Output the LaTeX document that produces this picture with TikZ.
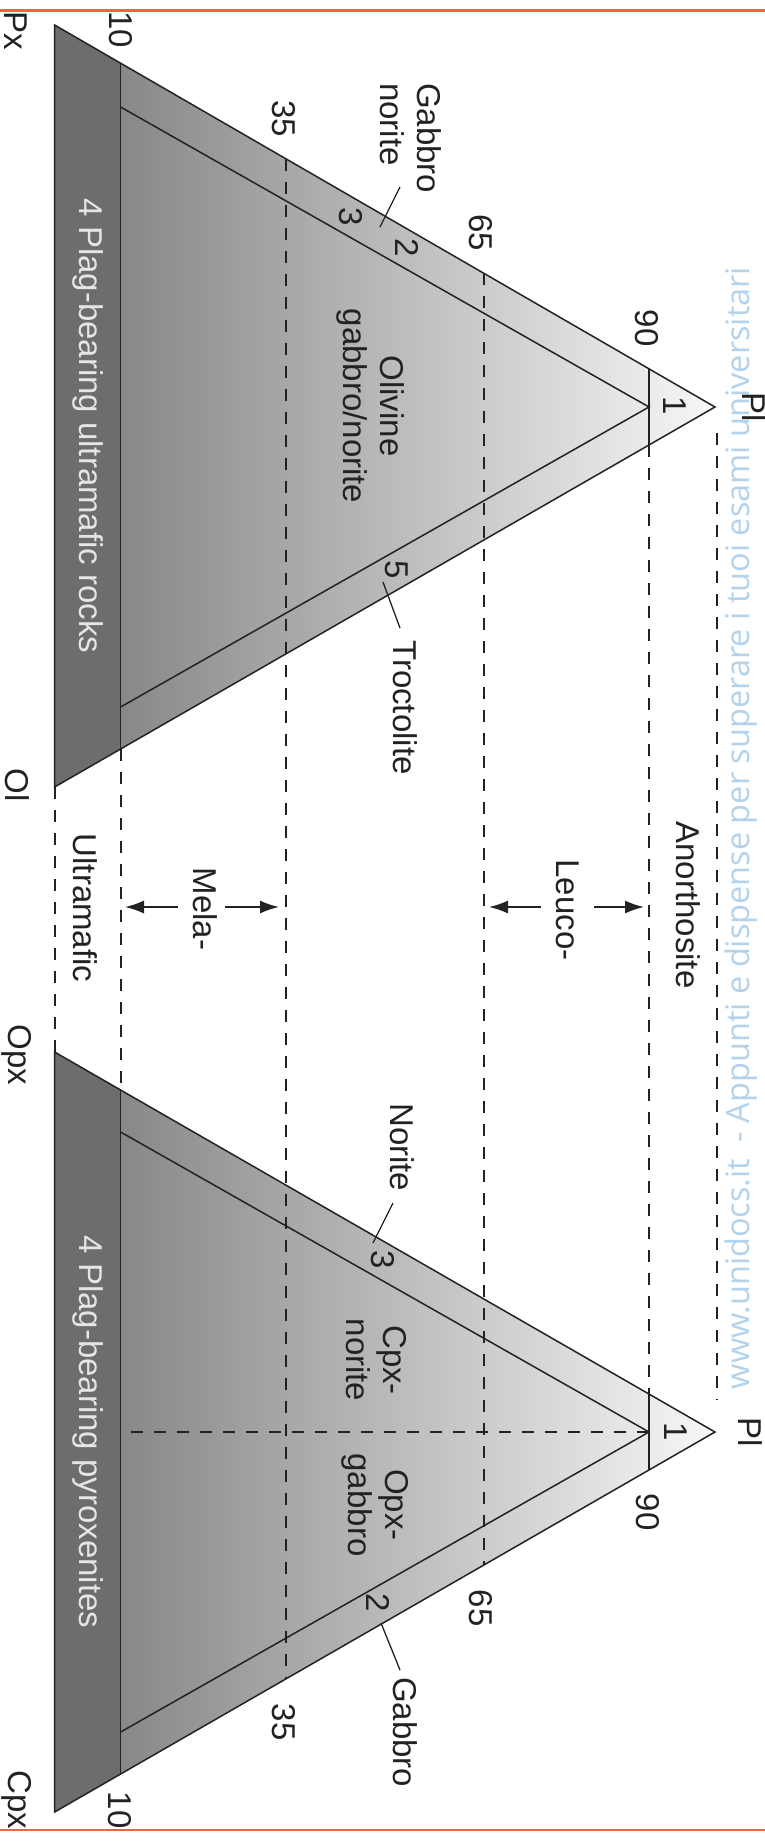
\documentclass[tikz,border=0pt]{standalone}
\usepackage{fontspec}
\setmainfont{Liberation Sans}
\newfontfamily\wmfont{Open Sans}
\usetikzlibrary{calc,arrows.meta}
\definecolor{ink}{HTML}{222222}
\definecolor{stripgray}{HTML}{6D6D6D}
\definecolor{gradL}{HTML}{888888}
\definecolor{gradR}{HTML}{F7F7F7}
\definecolor{wmblue}{HTML}{B3D3EC}
\definecolor{pagered}{HTML}{F0643C}
\begin{document}
\begin{tikzpicture}[x=1pt,y=-1pt,
  lbl/.style={font=\fontsize{33}{37}\selectfont, rotate=-90, inner sep=0pt, text=ink},
  striplbl/.style={lbl, text=white!90!black},
  edgeln/.style={draw=ink, line width=1.5pt, line join=miter},
  dashln/.style={draw=ink, line width=1.8pt, dash pattern=on 12pt off 11pt},
  leader/.style={draw=ink, line width=1.3pt},
  rng/.style={draw=ink, line width=1.7pt, -{Latex[length=19pt,width=13pt]}},
]
\useasboundingbox (0,0) rectangle (765,1842);
\fill[white] (0,0) rectangle (765,1842);

% watermark
\node[rotate=90, inner sep=0pt, font=\wmfont\fontsize{32.5}{34}\selectfont, text=wmblue] (wm) at (741,828)
  {www.unidocs.it\ \ - Appunti e dispense per superare i tuoi esami universitari};

% page rules
\coordinate (RtL) at (0,10.7);  \coordinate (RtR) at (765,10.7);
\coordinate (RbL) at (0,1830);  \coordinate (RbR) at (765,1830);
\draw[pagered, line width=2.5pt] (RtL) -- (RtR);
\draw[pagered, line width=2.5pt] (RbL) -- (RbR);

% vertices
\coordinate (Px)  at (54.6,25);
\coordinate (Ol)  at (54.6,787);
\coordinate (PlA) at (715,407);
\coordinate (Opx) at (54.6,1052);
\coordinate (Cpx) at (54.6,1812);
\coordinate (PlB) at (715,1432);

% points on outer edges (Pl fraction)
\foreach \p/\n in {.1/10,.35/35,.65/65,.9/90}{
  \coordinate (A\n t) at ($(Px)!\p!(PlA)$);
  \coordinate (A\n b) at ($(Ol)!\p!(PlA)$);
  \coordinate (B\n t) at ($(Opx)!\p!(PlB)$);
  \coordinate (B\n b) at ($(Cpx)!\p!(PlB)$);
}
% inner (5 %) lines
\coordinate (IA) at (649,407);
\coordinate (IB) at (649,1432);
\coordinate (A5t) at (120.6,107);
\coordinate (A5b) at (120.6,707);
\coordinate (B5t) at (120.6,1132);
\coordinate (B5b) at (120.6,1732);

% fills
\fill[stripgray] (Px) -- (A10t) -- (A10b) -- (Ol) -- cycle;
\shade[left color=gradL, right color=gradR] (A10t) -- (PlA) -- (A10b) -- cycle;
\fill[stripgray] (Opx) -- (B10t) -- (B10b) -- (Cpx) -- cycle;
\shade[left color=gradL, right color=gradR] (B10t) -- (PlB) -- (B10b) -- cycle;

% dashed guide lines
\coordinate (Rtop) at (717,433);
\coordinate (Rbot) at (717,1400);
\coordinate (Hend) at (124,1432);
\draw[dashln] (Ol) -- (Opx);
\draw[dashln] (A10b) -- (B10t);
\draw[dashln] (A35t) -- (B35b);
\draw[dashln] (A65t) -- (B65b);
\draw[dashln] (A90b) -- (B90t);
\draw[dashln] (Rtop) -- (Rbot);
\draw[dashln] (IB) -- (Hend);

% triangles
\draw[edgeln] (Px) -- (PlA) -- (Ol) -- cycle;
\draw[edgeln] (A10t) -- (A10b);
\draw[edgeln] (A5t) -- (IA) -- (A5b);
\draw[ink, line width=2.6pt] (A90t) -- (A90b);
\draw[edgeln] (Opx) -- (PlB) -- (Cpx) -- cycle;
\draw[edgeln] (B10t) -- (B10b);
\draw[edgeln] (B5t) -- (IB) -- (B5b);
\draw[ink, line width=1.5pt] (B90t) -- (B90b);

% corner labels
\node[lbl] (lPx)  at (16,31)   {Px};
\node[lbl] (lOl)  at (17,785)  {Ol};
\node[lbl] (lOpx) at (17,1055) {Opx};
\node[lbl] (lCpx) at (17,1800) {Cpx};
\node[lbl] (lPlA) at (754,407) {Pl};
\node[lbl] (lPlB) at (750,1432) {Pl};

% numbers
\node[lbl] (nA1)  at (675,406)  {1};
\node[lbl] (nA90) at (647,328)  {90};
\node[lbl] (nA65) at (481,233)  {65};
\node[lbl] (nA35) at (284,119)  {35};
\node[lbl] (nA10) at (121,30)   {10};
\node[lbl] (nA3)  at (351,217)  {3};
\node[lbl] (nA2)  at (407,248)  {2};
\node[lbl] (nA5)  at (397,570)  {5};
\node[lbl] (nB1)  at (676,1432) {1};
\node[lbl] (nB90) at (648,1512) {90};
\node[lbl] (nB65) at (481,1608) {65};
\node[lbl] (nB35) at (284,1722) {35};
\node[lbl] (nB10) at (120,1810) {10};
\node[lbl] (nB3)  at (383,1260) {3};
\node[lbl] (nB2)  at (378,1603) {2};

% rock names
\node[lbl, align=left, anchor=west] (tGN) at (411,83) {Gabbro\\norite};
\coordinate (gnA) at (400,187); \coordinate (gnB) at (380,227);
\draw[leader] (gnA) -- (gnB);
\node[lbl, align=center] (tOl) at (371,406) {Olivine\\gabbro/norite};
\node[lbl, anchor=west] (tTr) at (405,640) {Troctolite};
\coordinate (trA) at (383,582); \coordinate (trB) at (400,628);
\draw[leader] (trA) -- (trB);
\node[striplbl] (tUR) at (88,426) {4 Plag-bearing ultramafic rocks};

\node[lbl, anchor=west] (tNo) at (402,1103) {Norite};
\coordinate (noA) at (393,1203); \coordinate (noB) at (373,1243);
\draw[leader] (noA) -- (noB);
\node[lbl, align=center] (tCN) at (376,1360) {Cpx-\\norite};
\node[lbl, align=center] (tOG) at (375,1505) {Opx-\\gabbro};
\node[lbl, anchor=west] (tGa) at (405,1677) {Gabbro};
\coordinate (gaA) at (381,1623); \coordinate (gaB) at (400,1670);
\draw[leader] (gaA) -- (gaB);
\node[striplbl] (tPy) at (88,1432) {4 Plag-bearing pyroxenites};

% middle range labels
\node[lbl] (tAn) at (688,905) {Anorthosite};
\node[lbl] (tLe) at (568,910) {Leuco-};
\node[lbl] (tMe) at (205,909) {Mela-};
\node[lbl] (tUm) at (85,908)  {Ultramafic};
\coordinate (leL1) at (541,907); \coordinate (leL2) at (489,907);
\coordinate (leR1) at (594,907); \coordinate (leR2) at (644,907);
\coordinate (meL1) at (178,907); \coordinate (meL2) at (125,907);
\coordinate (meR1) at (225,907); \coordinate (meR2) at (279,907);
\draw[rng] (leL1) -- (leL2);
\draw[rng] (leR1) -- (leR2);
\draw[rng] (meL1) -- (meL2);
\draw[rng] (meR1) -- (meR2);
\end{tikzpicture}
\end{document}
